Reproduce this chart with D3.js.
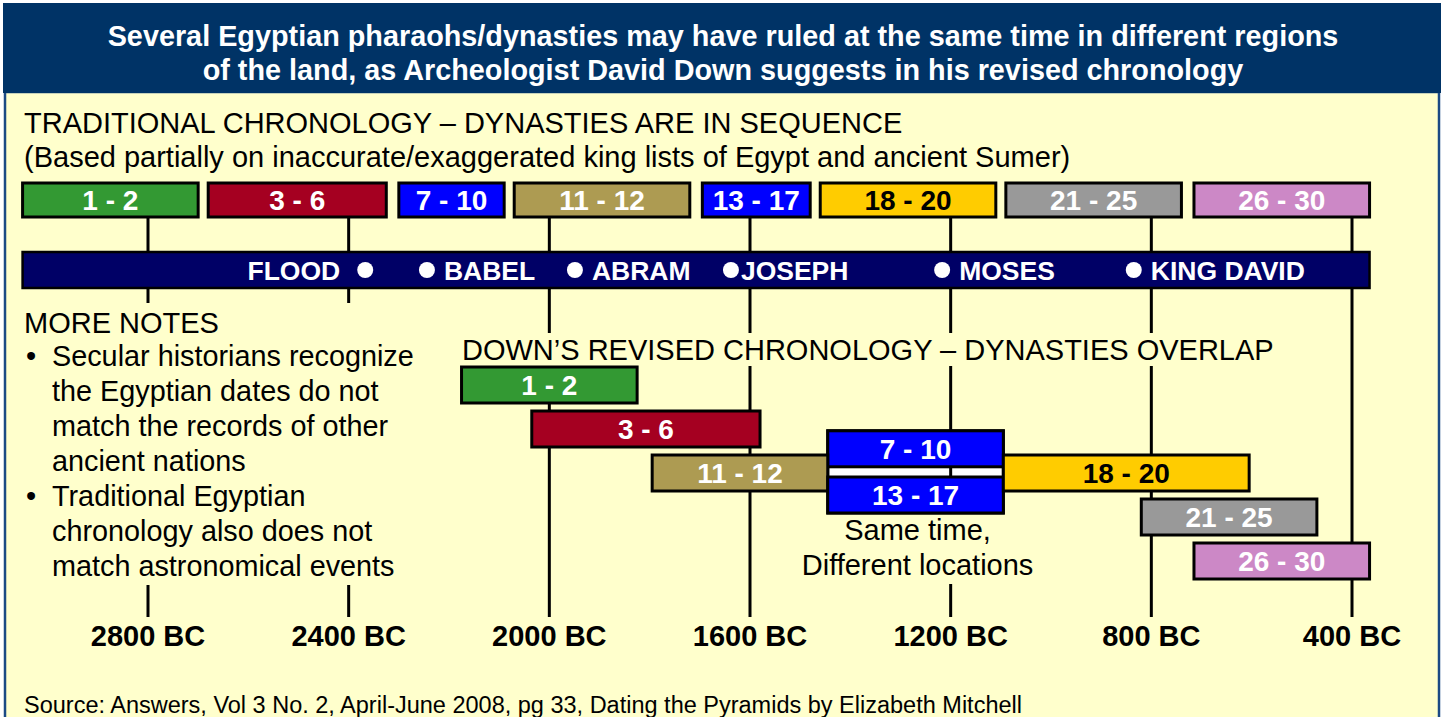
<!DOCTYPE html>
<html>
<head>
<meta charset="utf-8">
<script src="https://cdn.jsdelivr.net/npm/d3@7"></script>
<style>
  html, body { margin: 0; padding: 0; background: #ffffff; }
  svg { display: block; font-family: "Liberation Sans", Arial, sans-serif; }
</style>
</head>
<body>
<svg id="chart" width="1444" height="717"></svg>
<script>
// ---------- DATA ----------
const titleLines = [
  "Several Egyptian pharaohs/dynasties may have ruled at the same time in different regions",
  "of the land, as Archeologist David Down suggests in his revised chronology"
];
const tickYears = [2800, 2400, 2000, 1600, 1200, 800, 400];
const tickLabels = ["2800 BC", "2400 BC", "2000 BC", "1600 BC", "1200 BC", "800 BC", "400 BC"];

const dynastyLabels = ["1 - 2", "3 - 6", "7 - 10", "11 - 12", "13 - 17", "18 - 20", "21 - 25", "26 - 30"];
const dynastyColors = ["#339933", "#A50021", "#0000FF", "#AD9B52", "#0000FF", "#FFCC00", "#999999", "#CC88C6"];
const dynastyTextColors = ["#ffffff", "#ffffff", "#ffffff", "#ffffff", "#ffffff", "#000000", "#ffffff", "#ffffff"];

// Traditional chronology (years BC)
const traditionalStart = [3050, 2680, 2300, 2070, 1695, 1460, 1090, 715];
const traditionalEnd   = [2700, 2325, 2090, 1720, 1480, 1110,  740, 365];

// Down's revised chronology (years BC) and row in the overlap stack
const revisedStart = [2175, 2035, 1445, 1795, 1445, 1095, 820, 715];
const revisedEnd   = [1825, 1580, 1095, 1445, 1095,  605, 470, 365];
const revisedRow   = [0, 1, 1.45, 2, 2.5, 2, 3, 4];

// Biblical events on the timeline bar
const eventNames = ["FLOOD", "BABEL", "ABRAM", "JOSEPH", "MOSES", "KING DAVID"];
const eventYears = [2367, 2244, 1949, 1638, 1217, 835];
const eventSide  = ["left", "right", "right", "right", "right", "right"];

const noteLines = [
  { bullet: true,  text: "Secular historians recognize" },
  { bullet: false, text: "the Egyptian dates do not" },
  { bullet: false, text: "match the records of other" },
  { bullet: false, text: "ancient nations" },
  { bullet: true,  text: "Traditional Egyptian" },
  { bullet: false, text: "chronology also does not" },
  { bullet: false, text: "match astronomical events" }
];
const sameTimeLines = ["Same time,", "Different locations"];
const sourceText = "Source: Answers, Vol 3 No. 2, April-June 2008, pg 33, Dating the Pyramids by Elizabeth Mitchell";

// ---------- LAYOUT ----------
const svg = d3.select("#chart");
const W = 1444, H = 717;
const BG = "#FFFFCC";

const x = d3.scaleLinear().domain([2800, 400]).range([148, 1352]);
const rowY = d3.scaleLinear().domain([0, 4]).range([367, 543]);
const barH = 36;
const tradY = 183, tradH = 34;
const lineY = 252, lineH = 36;

// background / frame
svg.append("rect").attr("x", 0).attr("y", 0).attr("width", W).attr("height", H).attr("fill", "#ffffff");
svg.append("rect").attr("x", 5).attr("y", 92).attr("width", 1434).attr("height", H)
  .attr("fill", BG).attr("stroke", "#1B4A84").attr("stroke-width", 2.5);
svg.append("rect").attr("x", 3).attr("y", 3).attr("width", 1438).attr("height", 90).attr("fill", "#003366");

svg.selectAll("text.title").data(titleLines).enter().append("text")
  .attr("class", "title")
  .attr("x", 723).attr("y", (d, i) => 46 + i * 34)
  .attr("text-anchor", "middle")
  .attr("fill", "#ffffff").attr("font-weight", "bold").attr("font-size", 28.8)
  .text(d => d);

// headings
svg.append("text").attr("x", 24).attr("y", 133).attr("font-size", 29).attr("fill", "#000")
  .text("TRADITIONAL CHRONOLOGY \u2013 DYNASTIES ARE IN SEQUENCE");
svg.append("text").attr("x", 24).attr("y", 167).attr("font-size", 29).attr("fill", "#000")
  .text("(Based partially on inaccurate/exaggerated king lists of Egypt and ancient Sumer)");

// vertical tick lines (behind everything)
svg.selectAll("line.tick").data(tickYears).enter().append("line")
  .attr("class", "tick")
  .attr("x1", d => x(d)).attr("x2", d => x(d))
  .attr("y1", 200).attr("y2", 617)
  .attr("stroke", "#000").attr("stroke-width", 3);

// axis labels
svg.selectAll("text.axis").data(tickYears).enter().append("text")
  .attr("class", "axis")
  .attr("x", d => x(d)).attr("y", 646)
  .attr("text-anchor", "middle").attr("font-weight", "bold").attr("font-size", 29)
  .attr("fill", "#000")
  .text((d, i) => tickLabels[i]);

// traditional bars
const trad = svg.selectAll("g.trad").data(dynastyLabels).enter().append("g").attr("class", "trad");
trad.append("rect")
  .attr("x", (d, i) => x(traditionalStart[i]))
  .attr("y", tradY)
  .attr("width", (d, i) => x(traditionalEnd[i]) - x(traditionalStart[i]))
  .attr("height", tradH)
  .attr("fill", (d, i) => dynastyColors[i])
  .attr("stroke", "#000").attr("stroke-width", 3);
trad.append("text")
  .attr("x", (d, i) => (x(traditionalStart[i]) + x(traditionalEnd[i])) / 2)
  .attr("y", tradY + tradH / 2 + 10)
  .attr("text-anchor", "middle").attr("font-weight", "bold").attr("font-size", 28)
  .attr("fill", (d, i) => dynastyTextColors[i])
  .text(d => d);

// timeline bar
svg.append("rect")
  .attr("x", x(traditionalStart[0])).attr("y", lineY)
  .attr("width", x(traditionalEnd[7]) - x(traditionalStart[0])).attr("height", lineH)
  .attr("fill", "#000066").attr("stroke", "#000").attr("stroke-width", 2.5);

const ev = svg.selectAll("g.ev").data(eventNames).enter().append("g").attr("class", "ev");
ev.append("circle")
  .attr("cx", (d, i) => x(eventYears[i])).attr("cy", lineY + lineH / 2)
  .attr("r", 8).attr("fill", "#ffffff");
ev.append("text")
  .attr("x", (d, i) => {
    const cx = x(eventYears[i]);
    if (eventSide[i] === "left") return cx - 25;
    return cx + (d === "JOSEPH" ? 10 : 17);
  })
  .attr("y", lineY + lineH / 2 + 9.5)
  .attr("text-anchor", (d, i) => eventSide[i] === "left" ? "end" : "start")
  .attr("font-weight", "bold").attr("font-size", 26.5).attr("fill", "#ffffff")
  .text(d => d);

// notes block (covers tick lines)
svg.append("rect").attr("x", 18).attr("y", 303).attr("width", 406).attr("height", 282).attr("fill", BG);
svg.append("text").attr("x", 24).attr("y", 333).attr("font-size", 29).attr("fill", "#000").text("MORE NOTES");
const notes = svg.selectAll("g.note").data(noteLines).enter().append("g").attr("class", "note");
notes.append("text")
  .attr("x", 52).attr("y", (d, i) => 366 + i * 35)
  .attr("font-size", 28.8).attr("fill", "#000")
  .text(d => d.text);
notes.filter(d => d.bullet).append("text")
  .attr("x", 26).attr("y", d => 366 + noteLines.indexOf(d) * 35)
  .attr("font-size", 29).attr("fill", "#000")
  .text("\u2022");

// revised heading (covers tick lines)
svg.append("rect").attr("x", 458).attr("y", 333).attr("width", 822).attr("height", 33).attr("fill", BG);
svg.append("text").attr("x", 462).attr("y", 360).attr("font-size", 29).attr("fill", "#000")
  .text("DOWN\u2019S REVISED CHRONOLOGY \u2013 DYNASTIES OVERLAP");

// "same time" caption (covers tick line)
svg.append("rect").attr("x", 800).attr("y", 512).attr("width", 238).attr("height", 72).attr("fill", BG);
svg.selectAll("text.same").data(sameTimeLines).enter().append("text")
  .attr("class", "same")
  .attr("x", (x(revisedStart[2]) + x(revisedEnd[2])) / 2 + 2).attr("y", (d, i) => 540 + i * 35)
  .attr("text-anchor", "middle").attr("font-size", 29).attr("fill", "#000")
  .text(d => d);

// white group frame behind the two simultaneous blue dynasties
svg.append("rect")
  .attr("x", x(revisedStart[2])).attr("y", rowY(revisedRow[2]))
  .attr("width", x(revisedEnd[2]) - x(revisedStart[2]))
  .attr("height", rowY(revisedRow[4]) + barH - rowY(revisedRow[2]))
  .attr("fill", "#ffffff").attr("stroke", "#000").attr("stroke-width", 3);
// redraw the 1200 BC tick through the white gap
svg.append("line")
  .attr("x1", x(1200)).attr("x2", x(1200))
  .attr("y1", rowY(revisedRow[2])).attr("y2", rowY(revisedRow[4]) + barH)
  .attr("stroke", "#000").attr("stroke-width", 3);

// revised bars
const rev = svg.selectAll("g.rev").data(dynastyLabels).enter().append("g").attr("class", "rev");
rev.append("rect")
  .attr("x", (d, i) => x(revisedStart[i]))
  .attr("y", (d, i) => rowY(revisedRow[i]))
  .attr("width", (d, i) => x(revisedEnd[i]) - x(revisedStart[i]))
  .attr("height", barH)
  .attr("fill", (d, i) => dynastyColors[i])
  .attr("stroke", "#000").attr("stroke-width", 3);
rev.append("text")
  .attr("x", (d, i) => (x(revisedStart[i]) + x(revisedEnd[i])) / 2)
  .attr("y", (d, i) => rowY(revisedRow[i]) + barH / 2 + 10)
  .attr("text-anchor", "middle").attr("font-weight", "bold").attr("font-size", 28)
  .attr("fill", (d, i) => dynastyTextColors[i])
  .text(d => d);

// source
svg.append("text").attr("x", 24).attr("y", 713).attr("font-size", 23.5).attr("fill", "#000")
  .text(sourceText);
</script>
</body>
</html>
